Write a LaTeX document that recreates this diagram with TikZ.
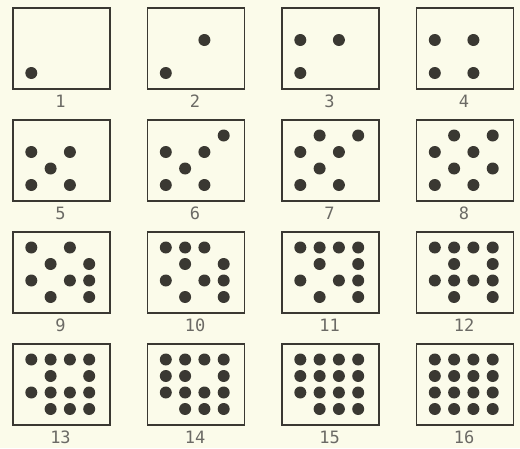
\documentclass[tikz,border=0pt]{standalone}
\usepackage{fontspec}
\newfontfamily\labfont{DejaVu Sans Mono}
\definecolor{bg}{HTML}{FBFBEA}
\definecolor{ink}{HTML}{3A3832}
\begin{document}
\begin{tikzpicture}[x=1pt,y=-1pt,
  panel/.style={draw=ink,line width=1.8pt,minimum width=97pt,minimum height=81pt,inner sep=0pt,anchor=north west},
  dot/.style={circle,fill=ink,minimum size=12pt,inner sep=0pt},
  lab/.style={font=\labfont\fontsize{17}{17}\selectfont,text=ink!75}]
\fill[bg] (0,0) rectangle (520,448);
\useasboundingbox (0,0) rectangle (520,448);
\foreach \n/\pat in {
  1/{1/4},
  2/{1/4,3/2},
  3/{1/2,3/2,1/4},
  4/{1/2,3/2,1/4,3/4},
  5/{1/2,3/2,2/3,1/4,3/4},
  6/{4/1,1/2,3/2,2/3,1/4,3/4},
  7/{2/1,4/1,1/2,3/2,2/3,1/4,3/4},
  8/{2/1,4/1,1/2,3/2,2/3,4/3,1/4,3/4},
  9/{1/1,3/1,2/2,4/2,1/3,3/3,4/3,2/4,4/4},
  10/{1/1,2/1,3/1,2/2,4/2,1/3,3/3,4/3,2/4,4/4},
  11/{1/1,2/1,3/1,4/1,2/2,4/2,1/3,3/3,4/3,2/4,4/4},
  12/{1/1,2/1,3/1,4/1,2/2,4/2,1/3,2/3,3/3,4/3,2/4,4/4},
  13/{1/1,2/1,3/1,4/1,2/2,4/2,1/3,2/3,3/3,4/3,2/4,3/4,4/4},
  14/{1/1,2/1,3/1,4/1,1/2,2/2,4/2,1/3,2/3,3/3,4/3,2/4,3/4,4/4},
  15/{1/1,2/1,3/1,4/1,1/2,2/2,3/2,4/2,1/3,2/3,3/3,4/3,2/4,3/4,4/4},
  16/{1/1,2/1,3/1,4/1,1/2,2/2,3/2,4/2,1/3,2/3,3/3,4/3,1/4,2/4,3/4,4/4}}{
  \pgfmathsetmacro\L{12+134.5*mod(\n-1,4)}
  \pgfmathsetmacro\T{7+112*floor((\n-1)/4)}
  \node[panel] (box\n) at (\L,\T) {};
  \node[lab] (lab\n) at (\L+48.5,\T+94) {\n};
  \foreach \c/\r in \pat {
    \node[dot] (d\n-\c-\r) at (\L+19.3*\c,\T+16.5*\r) {};
  }
}
\end{tikzpicture}
\end{document}
